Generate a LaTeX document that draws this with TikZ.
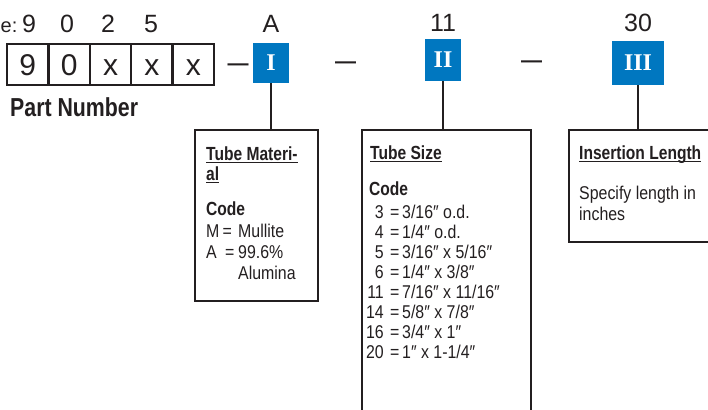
\documentclass[tikz,border=0pt]{standalone}
\usepackage{fontspec}
\setmainfont{Liberation Sans}
\newfontfamily\cond{Liberation Sans}[FakeStretch=0.86]
\newfontfamily\condb{Liberation Sans}[FakeStretch=0.82]
\newfontfamily\romfont{Liberation Serif}
\definecolor{ink}{HTML}{231F20}
\definecolor{tblue}{HTML}{0077C0}
\begin{document}
\begin{tikzpicture}[x=1pt,y=-1pt,
  topnum/.style={font=\fontsize{25}{25}\selectfont, text=ink, inner sep=0pt, anchor=base},
  cell/.style={draw=ink, line width=2.5pt, minimum width=41.4pt, minimum height=41pt, inner sep=0pt,
    font=\fontsize{30}{30}\selectfont, text=ink, text height=21.5pt, text depth=0pt},
  dashtxt/.style={font=\fontsize{21}{21}\selectfont\bfseries, text=ink, inner sep=0pt, anchor=base},
  roman/.style={fill=tblue, text=white, inner sep=0pt, font=\fontsize{24}{24}\selectfont\romfont\bfseries},
  conn/.style={draw=ink, line width=2.2pt},
  infobox/.style={draw=ink, line width=2pt, inner sep=0pt},
  txt/.style={font=\fontsize{18.5}{22}\selectfont\cond, text=ink, inner sep=0pt, anchor=base west},
  codetxt/.style={font=\fontsize{18.5}{22}\selectfont\cond, text=ink, inner sep=0pt, anchor=base east},
  hd/.style={font=\fontsize{19}{22}\selectfont\condb\bfseries, text=ink, inner sep=0pt, anchor=base west},
  uline/.style={draw=ink, line width=1.2pt}]
\useasboundingbox (0,0) rectangle (708,409);
\clip (0,0) rectangle (708,409);

% top example digits
\node[topnum, font=\fontsize{20}{20}\selectfont, anchor=base west] (ex) at (0.5,33) {e:};
\node[topnum] (t1) at (29,33) {9};
\node[topnum] (t2) at (67,33) {0};
\node[topnum] (t3) at (108,33) {2};
\node[topnum] (t4) at (151,33) {5};
\node[topnum] (tA) at (271,33) {A};
\node[topnum] (t11) at (443,32) {11};
\node[topnum] (t30) at (638,32) {30};

% part number cells
\node[cell] (c1) at (27.7,64.5) {9};
\node[cell] (c2) at (69.1,64.5) {0};
\node[cell] (c3) at (110.5,64.5) {x};
\node[cell] (c4) at (151.9,64.5) {x};
\node[cell] (c5) at (193.3,64.5) {x};
\node[font=\fontsize{26}{26}\selectfont\condb\bfseries, text=ink, inner sep=0pt, anchor=base west] (pn) at (10,117) {Part Number};

% dashes
\node[dashtxt] (d1) at (238,71) {—};
\node[dashtxt] (d2) at (345.5,69) {—};
\node[dashtxt] (d3) at (531.5,68) {—};

% roman boxes
\node[roman, minimum width=36pt, minimum height=40pt] (r1) at (271,63) {I};
\node[roman, minimum width=36pt, minimum height=42pt] (r2) at (443,60) {II};
\node[roman, minimum width=52pt, minimum height=44pt] (r3) at (638,63) {III};

% info boxes
\node[infobox, minimum width=123pt, minimum height=171pt] (b1) at (256.5,215.5) {};
\node[infobox, minimum width=169pt, minimum height=300pt] (b2) at (446.5,280) {};
\node[infobox, minimum width=151pt, minimum height=112pt] (b3) at (644.5,186) {};

% connectors
\draw[conn] (r1.south) -- (r1.south |- b1.north);
\draw[conn] (r2.south) -- (r2.south |- b2.north);
\draw[conn] (r3.south) -- (r3.south |- b3.north);

% box 1
\node[hd] (h1a) at (206,160) {Tube Materi-};
\node[hd] (h1b) at (206,180) {al};
\draw[uline] ([yshift=-2.5pt]h1a.base west) -- ([yshift=-2.5pt]h1a.base east);
\draw[uline] ([yshift=-2.5pt]h1b.base west) -- ([yshift=-2.5pt]h1b.base east);
\node[hd] (k1) at (206,215) {Code};
\node[txt] (m1) at (206,237) {M};
\node[txt] (m2) at (222.5,237) {=};
\node[txt] (m3) at (238,237) {Mullite};
\node[txt] (a1) at (206,258) {A};
\node[txt] (a2) at (225,258) {=};
\node[txt] (a3) at (238,258) {99.6\%};
\node[txt] (a4) at (238,279) {Alumina};

% box 2
\node[hd] (h2) at (370,159) {Tube Size};
\draw[uline] ([yshift=-2.5pt]h2.base west) -- ([yshift=-2.5pt]h2.base east);
\node[hd] (k2) at (369,195) {Code};
\node[codetxt] (s1) at (384,218) {3};
\node[txt] (e1) at (390,218) {=};
\node[txt] (v1) at (402,218) {3/16″ o.d.};
\node[codetxt] (s2) at (384,238) {4};
\node[txt] (e2) at (390,238) {=};
\node[txt] (v2) at (402,238) {1/4″ o.d.};
\node[codetxt] (s3) at (384,258) {5};
\node[txt] (e3) at (390,258) {=};
\node[txt] (v3) at (402,258) {3/16″ x 5/16″};
\node[codetxt] (s4) at (384,278) {6};
\node[txt] (e4) at (390,278) {=};
\node[txt] (v4) at (402,278) {1/4″ x 3/8″};
\node[codetxt] (s5) at (384,298) {11};
\node[txt] (e5) at (390,298) {=};
\node[txt] (v5) at (402,298) {7/16″ x 11/16″};
\node[codetxt] (s6) at (384,318) {14};
\node[txt] (e6) at (390,318) {=};
\node[txt] (v6) at (402,318) {5/8″ x 7/8″};
\node[codetxt] (s7) at (384,338) {16};
\node[txt] (e7) at (390,338) {=};
\node[txt] (v7) at (402,338) {3/4″ x 1″};
\node[codetxt] (s8) at (384,358) {20};
\node[txt] (e8) at (390,358) {=};
\node[txt] (v8) at (402,358) {1″ x 1-1/4″};

% box 3
\node[hd] (h3) at (579,159) {Insertion Length};
\draw[uline] ([yshift=-2.5pt]h3.base west) -- ([yshift=-2.5pt]h3.base east);
\node[txt] (p1) at (579,199) {Specify length in};
\node[txt] (p2) at (579,220) {inches};
\end{tikzpicture}
\end{document}
